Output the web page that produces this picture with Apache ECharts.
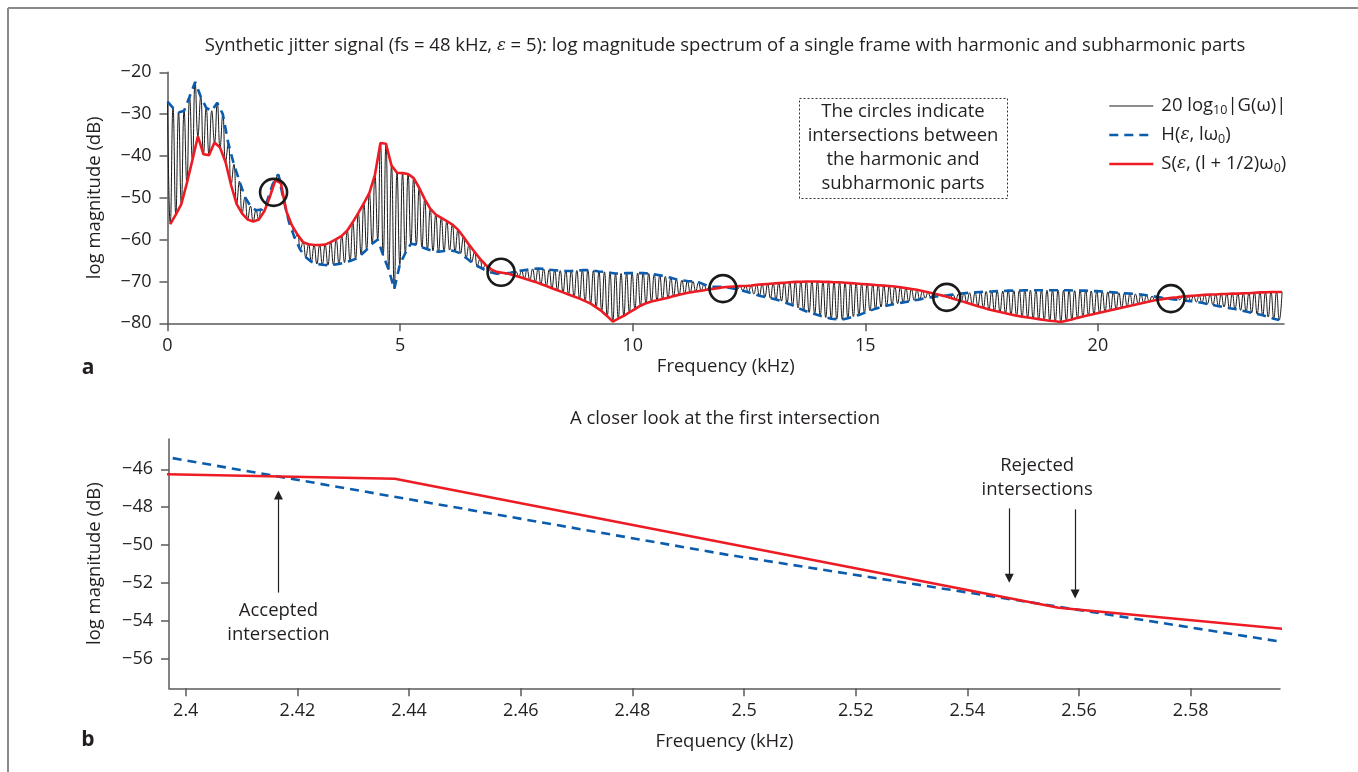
<!DOCTYPE html>
<html>
<head>
<meta charset="utf-8">
<title>Jitter spectrum</title>
<script src="https://cdn.jsdelivr.net/npm/echarts@6/dist/echarts.min.js"></script>
<style>
  html, body { margin: 0; padding: 0; background: #fff; }
  #chart { width: 1358px; height: 772px; }
</style>
</head>
<body>
<div id="chart"></div>
<script>
// Fundamental frequency of the synthetic jitter frame (kHz)
const f0 = 0.1189;

// Harmonic envelope H(eps, l*w0) in dB, l = 0..201
const harmonicDb = [
  -27.0, -28.5, -29.6, -29.2, -25.8, -22.3, -25.8, -28.5, -29.2, -27.3,
  -30.0, -37.0, -42.0, -46.0, -49.8, -52.0, -53.0, -52.8, -50.8, -46.8,
  -44.4, -50.5, -56.0, -59.6, -62.4, -64.2, -65.3, -65.8, -66.0, -66.1,
  -66.0, -65.8, -65.5, -65.1, -64.6, -63.6, -62.4, -61.0, -60.0, -63.8,
  -67.2, -71.8, -66.0, -63.2, -61.0, -61.2, -61.8, -62.3, -62.7, -62.9,
  -62.7, -62.5, -62.8, -63.3, -64.4, -65.4, -66.3, -67.0, -67.7, -68.0,
  -68.2, -68.1, -67.9, -67.6, -67.4, -67.2, -67.0, -66.9, -67.0, -67.2,
  -67.3, -67.4, -67.5, -67.5, -67.4, -67.3, -67.3, -67.4, -67.6, -67.7,
  -67.9, -68.1, -68.1, -68.0, -68.0, -68.0, -68.0, -68.1, -68.3, -68.5,
  -68.8, -69.1, -69.5, -69.7, -69.9, -70.0, -70.2, -70.7, -71.2, -71.3,
  -71.3, -71.4, -71.6, -71.9, -72.2, -72.6, -73.0, -73.4, -73.7, -74.0,
  -74.3, -74.7, -75.2, -75.7, -76.3, -76.9, -77.4, -77.8, -78.2, -78.6,
  -78.9, -79.0, -79.1, -78.8, -78.4, -78.0, -77.5, -77.0, -76.5, -76.1,
  -75.8, -75.5, -75.3, -75.0, -74.8, -74.5, -74.3, -74.0, -73.8, -73.6,
  -73.4, -73.3, -73.1, -73.0, -72.8, -72.7, -72.6, -72.5, -72.4, -72.4,
  -72.3, -72.3, -72.2, -72.2, -72.2, -72.1, -72.1, -72.1, -72.1, -72.1,
  -72.1, -72.1, -72.1, -72.1, -72.2, -72.2, -72.2, -72.3, -72.3, -72.4,
  -72.5, -72.6, -72.7, -72.8, -72.9, -73.0, -73.1, -73.3, -73.5, -73.7,
  -73.9, -74.1, -74.3, -74.4, -74.6, -74.7, -74.9, -75.1, -75.4, -75.6,
  -75.9, -76.1, -76.4, -76.6, -76.9, -77.2, -77.5, -77.8, -78.1, -78.5,
  -78.9, -79.2
];

// Subharmonic envelope S(eps, (l + 1/2)*w0) in dB, l = 0..201
const subharmonicDb = [
  -56.3, -54.0, -51.5, -46.5, -41.0, -35.3, -39.6, -39.8, -36.8, -38.0,
  -41.5, -47.0, -51.5, -53.8, -55.2, -55.7, -55.2, -53.2, -49.8, -45.8,
  -46.5, -53.3, -56.6, -58.8, -60.6, -61.1, -61.3, -61.3, -61.2, -60.6,
  -59.9, -59.1, -57.8, -55.8, -53.6, -51.3, -48.8, -44.5, -36.9, -37.1,
  -42.3, -44.0, -44.1, -44.3, -45.3, -47.6, -50.3, -52.6, -54.0, -54.8,
  -55.6, -56.4, -57.6, -59.3, -61.2, -62.9, -64.6, -66.0, -67.1, -67.7,
  -67.9, -68.1, -68.5, -68.9, -69.3, -69.7, -70.1, -70.6, -71.1, -71.6,
  -72.1, -72.6, -73.1, -73.6, -74.1, -74.7, -75.3, -76.2, -77.1, -78.3,
  -79.6, -78.9, -78.2, -77.4, -76.6, -75.8, -75.2, -74.8, -74.5, -74.2,
  -73.9, -73.5, -73.2, -72.9, -72.6, -72.4, -72.2, -72.0, -71.8, -71.6,
  -71.4, -71.3, -71.2, -71.1, -71.1, -71.0, -70.8, -70.7, -70.6, -70.5,
  -70.4, -70.3, -70.2, -70.1, -70.1, -70.0, -70.0, -70.0, -70.1, -70.1,
  -70.2, -70.2, -70.3, -70.4, -70.5, -70.6, -70.7, -70.8, -70.9, -71.0,
  -71.1, -71.2, -71.4, -71.6, -71.8, -72.0, -72.3, -72.6, -72.9, -73.2,
  -73.5, -73.9, -74.3, -74.7, -75.1, -75.5, -75.9, -76.3, -76.7, -77.0,
  -77.3, -77.6, -77.9, -78.2, -78.4, -78.6, -78.8, -79.0, -79.2, -79.4,
  -79.5, -79.7, -79.4, -79.1, -78.7, -78.4, -78.1, -77.8, -77.5, -77.2,
  -76.9, -76.6, -76.3, -76.0, -75.7, -75.4, -75.1, -74.8, -74.5, -74.3,
  -74.1, -73.9, -73.8, -73.6, -73.5, -73.4, -73.3, -73.2, -73.1, -73.1,
  -73.0, -73.0, -72.9, -72.9, -72.8, -72.8, -72.7, -72.6, -72.6, -72.5,
  -72.5, -72.5
];

// Intersections between the harmonic and subharmonic envelopes (kHz, dB)
const intersections = [[2.28, -48.7], [7.17, -67.8], [11.94, -71.7], [16.75, -73.8], [21.57, -74.1]];

// Tick values
const ticksAX = [0, 5, 10, 15, 20];
const ticksAY = [-80, -70, -60, -50, -40, -30, -20];
const ticksBX = [2.4, 2.42, 2.44, 2.46, 2.48, 2.5, 2.52, 2.54, 2.56, 2.58];
const ticksBY = [-56, -54, -52, -50, -48, -46];

// Arrows in the close-up panel: [from, to] in (kHz, dB)
const acceptedArrow = [[2.4166, -52.5], [2.4166, -47.35]];
const rejectedArrows = [
  [[2.5475, -48.06], [2.5475, -51.75]],
  [[2.5593, -48.11], [2.5593, -52.57]]
];
const acceptedLabelAt = [2.4166, -54.08];
const rejectedLabelAt = [2.5525, -46.44];

const nameG = 'G';
const nameH = 'H';
const nameS = 'S';

const FONT = "'Open Sans', 'Noto Sans', sans-serif";
const FS = 18.5;
const TXT = '#231f20';
const AXIS = '#58595b';
const BLUE = '#0b5cad';
const RED = '#ed1c24';

const hPts = harmonicDb.map((v, l) => [l * f0, v]);
const sPts = subharmonicDb.map((v, l) => [(l + 0.5) * f0, v]);
const gPts = [];
harmonicDb.forEach((v, l) => { gPts.push(hPts[l]); gPts.push(sPts[l]); });

const minus = v => (v < 0 ? '\u2212' : '') + String(Math.abs(v));

function valueAxis(o) {
  return {
    type: 'value',
    gridIndex: o.grid,
    min: o.min,
    max: o.max,
    name: o.name,
    nameLocation: 'middle',
    nameGap: o.nameGap,
    nameTextStyle: { fontFamily: FONT, fontSize: FS, color: TXT },
    axisLine: { show: true, onZero: false, lineStyle: { color: AXIS, width: 1.5 } },
    axisTick: { show: true, length: 8, customValues: o.ticks, lineStyle: { color: AXIS, width: 1.5 } },
    axisLabel: { customValues: o.ticks, margin: o.margin, fontFamily: FONT, fontSize: 18, color: TXT, formatter: minus },
    splitLine: { show: false }
  };
}

const chart = echarts.init(document.getElementById('chart'), null, { renderer: 'canvas' });

const option = {
  animation: false,
  backgroundColor: '#ffffff',
  textStyle: { fontFamily: FONT, color: TXT },
  grid: [
    { left: 167.5, top: 72.3, width: 1116.5, height: 251 },
    { left: 169, top: 439, width: 1111, height: 249.3 }
  ],
  xAxis: [
    valueAxis({ grid: 0, min: 0, max: 24, ticks: ticksAX, name: 'Frequency (kHz)', nameGap: 34, margin: 14 }),
    valueAxis({ grid: 1, min: 2.397, max: 2.596, ticks: ticksBX, name: 'Frequency (kHz)', nameGap: 44, margin: 14 })
  ],
  yAxis: [
    valueAxis({ grid: 0, min: -80, max: -20, ticks: ticksAY, name: 'log magnitude (dB)', nameGap: 63, margin: 16 }),
    valueAxis({ grid: 1, min: -57.55, max: -44.4, ticks: ticksBY, name: 'log magnitude (dB)', nameGap: 65, margin: 16 })
  ],
  legend: {
    orient: 'vertical',
    left: 1108,
    top: 95,
    padding: 0,
    itemWidth: 44,
    itemHeight: 14,
    itemGap: 7,
    data: [nameG, nameH, nameS],
    selectedMode: false,
    itemStyle: { opacity: 0 },
    lineStyle: { width: 'inherit' },
    formatter: function (name) {
      if (name === nameG) return '20 log{sub|10}|G(\u03c9)|';
      if (name === nameH) return 'H({e|\u03b5}, l\u03c9{sub|0})';
      return 'S({e|\u03b5}, (l + 1/2)\u03c9{sub|0})';
    },
    textStyle: {
      fontFamily: FONT, fontSize: FS, color: TXT, lineHeight: 22, padding: [0, 0, 0, 3],
      rich: {
        sub: { fontFamily: FONT, fontSize: 12.5, color: TXT, lineHeight: 14, verticalAlign: 'bottom' },
        e: { fontFamily: "'DejaVu Serif', serif", fontStyle: 'italic', fontSize: 17, color: TXT, lineHeight: 22 }
      }
    }
  },
  series: [
    {
      name: nameG, type: 'line', xAxisIndex: 0, yAxisIndex: 0,
      data: gPts, showSymbol: false, symbol: 'none', smooth: 0.5,
      lineStyle: { color: '#1a1a1a', width: 1 }, itemStyle: { color: '#1a1a1a' }, z: 2
    },
    {
      name: nameH, type: 'line', xAxisIndex: 0, yAxisIndex: 0,
      data: hPts, showSymbol: false, symbol: 'none',
      lineStyle: { color: BLUE, width: 2.6, type: [9, 6] }, itemStyle: { color: BLUE }, z: 3
    },
    {
      name: nameS, type: 'line', xAxisIndex: 0, yAxisIndex: 0,
      data: sPts, showSymbol: false, symbol: 'none',
      lineStyle: { color: RED, width: 2.6 }, itemStyle: { color: RED }, z: 4
    },
    {
      name: 'intersections', type: 'scatter', xAxisIndex: 0, yAxisIndex: 0,
      data: intersections, symbol: 'circle', symbolSize: 27,
      itemStyle: { color: 'rgba(0,0,0,0)', borderColor: '#1a1a1a', borderWidth: 2.6, opacity: 1 }, z: 5,
      silent: true
    },
    {
      name: nameH, type: 'line', xAxisIndex: 1, yAxisIndex: 1,
      data: hPts, showSymbol: false, symbol: 'none', clip: true,
      lineStyle: { color: BLUE, width: 2.6, type: [9, 6] }, itemStyle: { color: BLUE }, z: 3
    },
    {
      name: nameS, type: 'line', xAxisIndex: 1, yAxisIndex: 1,
      data: sPts, showSymbol: false, symbol: 'none', clip: true,
      lineStyle: { color: RED, width: 2.6 }, itemStyle: { color: RED }, z: 4,
      markLine: {
        silent: true,
        symbol: ['none', 'triangle'],
        symbolSize: 9,
        label: { show: false },
        lineStyle: { color: TXT, width: 1.2, type: 'solid' },
        data: [acceptedArrow].concat(rejectedArrows).map(a => [{ coord: a[0] }, { coord: a[1] }])
      },
      markPoint: {
        silent: true,
        symbol: 'circle',
        symbolSize: 0,
        label: {
          show: true, position: 'inside', fontFamily: FONT, fontSize: FS, color: TXT,
          lineHeight: 24, align: 'center', verticalAlign: 'middle',
          formatter: p => p.name
        },
        data: [
          { name: 'Accepted\nintersection', coord: acceptedLabelAt },
          { name: 'Rejected\nintersections', coord: rejectedLabelAt }
        ]
      }
    }
  ],
  graphic: [
    { type: 'line', shape: { x1: 8, y1: 8, x2: 1358, y2: 8 }, style: { stroke: '#8a8a8a', lineWidth: 2 }, silent: true },
    { type: 'line', shape: { x1: 8, y1: 8, x2: 8, y2: 772 }, style: { stroke: '#8a8a8a', lineWidth: 2 }, silent: true },
    {
      type: 'text', x: 725, y: 46, silent: true,
      style: {
        text: 'Synthetic jitter signal (fs = 48 kHz, {e|\u03b5} = 5): log magnitude spectrum of a single frame with harmonic and subharmonic parts',
        fontFamily: FONT, fontSize: 18.5, fill: TXT, align: 'center', verticalAlign: 'middle',
        rich: { e: { fontFamily: "'DejaVu Serif', serif", fontStyle: 'italic', fontSize: 16.5, fill: TXT } }
      }
    },
    {
      type: 'text', x: 725, y: 419, silent: true,
      style: { text: 'A closer look at the first intersection', fontFamily: FONT, fontSize: 18.5, fill: TXT, align: 'center', verticalAlign: 'middle' }
    },
    { type: 'text', x: 88, y: 368, silent: true, style: { text: 'a', fontFamily: FONT, fontSize: 21, fontWeight: 'bold', fill: TXT, align: 'center', verticalAlign: 'middle' } },
    { type: 'text', x: 88, y: 740, silent: true, style: { text: 'b', fontFamily: FONT, fontSize: 21, fontWeight: 'bold', fill: TXT, align: 'center', verticalAlign: 'middle' } },
    { type: 'rect', shape: { x: 799.5, y: 98.5, width: 208, height: 100 }, style: { fill: 'none', stroke: '#333', lineWidth: 1, lineDash: [2, 2] }, silent: true },
    {
      type: 'text', x: 903, y: 148, silent: true,
      style: {
        text: 'The circles indicate\nintersections between\nthe harmonic and\nsubharmonic parts',
        fontFamily: FONT, fontSize: FS, lineHeight: 24, fill: TXT, align: 'center', verticalAlign: 'middle'
      }
    }
  ]
};

chart.setOption(option);
</script>
</body>
</html>
